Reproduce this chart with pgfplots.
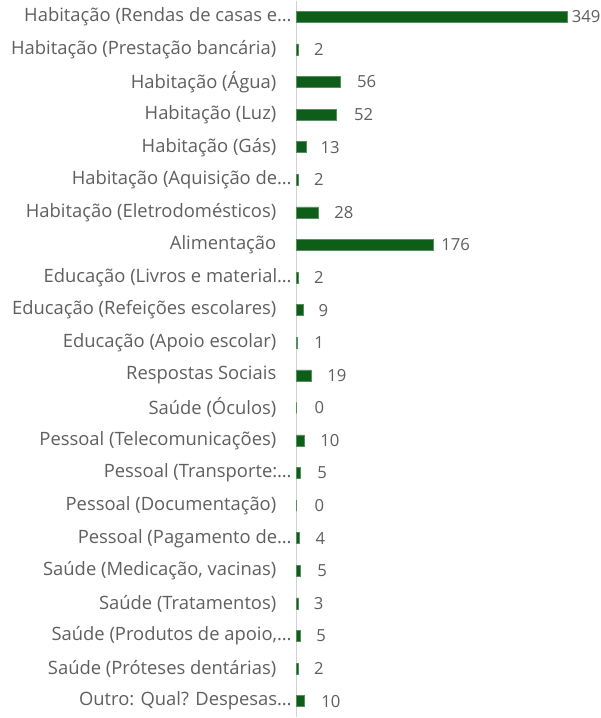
\documentclass[border=0pt]{standalone}
\usepackage{fontspec}
\setmainfont{Open Sans}
\usepackage{pgfplots}
\usepackage{pgfplotstable}
\pgfplotsset{compat=1.18}
\definecolor{bargreen}{RGB}{14,94,26}
\definecolor{txtgray}{RGB}{95,95,95}
\definecolor{axgray}{RGB}{210,210,210}

% labels that were not cut off sit further from the axis
\newcommand{\pad}{\rule{11.5pt}{0pt}}

% idx = row from top, val = count, dx = label gap in px
\pgfplotstableread{
idx val dx
0  349 4
1  2   16
2  56  17
3  52  17
4  13  14
5  2   16
6  28  16
7  176 8
8  2   16
9  9   15
10 1   17
11 19  16
12 0   18
13 10  16
14 5   17
15 0   18
16 4   16
17 5   17
18 3   15
19 5   16
20 2   16
21 10  17
}\despesas

\begin{document}
\begin{tikzpicture}
\begin{axis}[
  xbar, scale only axis,
  width=228pt, height=538pt,
  xmin=0, xmax=391,
  ymin=-0.5, ymax=21.5, y dir=reverse,
  bar width=8.25pt,
  axis x line=none,
  axis y line=left,
  axis line style={-, draw=axgray, line width=0.8pt},
  ytick={0,...,21},
  major tick length=0pt,
  /pgf/number format/assume math mode=true,
  yticklabel style={font=\fontsize{13.8}{16}\selectfont, text=txtgray},
  yticklabels={
    {Habitação (Rendas de casas e…},
    {Habitação (Prestação bancária)\pad},
    {Habitação (Água)\pad},
    {Habitação (Luz)\pad},
    {Habitação (Gás)\pad},
    {Habitação (Aquisição de…},
    {Habitação (Eletrodomésticos)\pad},
    {Alimentação\pad},
    {Educação (Livros e material…},
    {Educação (Refeições escolares)\pad},
    {Educação (Apoio escolar)\pad},
    {Respostas Sociais\pad},
    {Saúde (Óculos)\pad},
    {Pessoal (Telecomunicações)\pad},
    {Pessoal (Transporte:…},
    {Pessoal (Documentação)\pad},
    {Pessoal (Pagamento de…},
    {Saúde (Medicação, vacinas)\pad},
    {Saúde (Tratamentos)\pad},
    {Saúde (Produtos de apoio,…},
    {Saúde (Próteses dentárias)\pad},
    {Outro: Qual? Despesas…},
  },
  clip=false,
]
\addplot[fill=bargreen, draw=bargreen!70!white, line width=0.4pt,
  visualization depends on={\thisrow{dx} \as \dx},
  nodes near coords,
  every node near coord/.append style={anchor=west, inner sep=0pt,
    xshift={0.75pt*\dx}, text=txtgray, font=\fontsize{12.5}{15}\selectfont},
] table[x=val, y=idx] {\despesas};
\end{axis}
% small left margin as in the reference
\path ([xshift=-5pt]current bounding box.west);
\end{tikzpicture}
\end{document}
